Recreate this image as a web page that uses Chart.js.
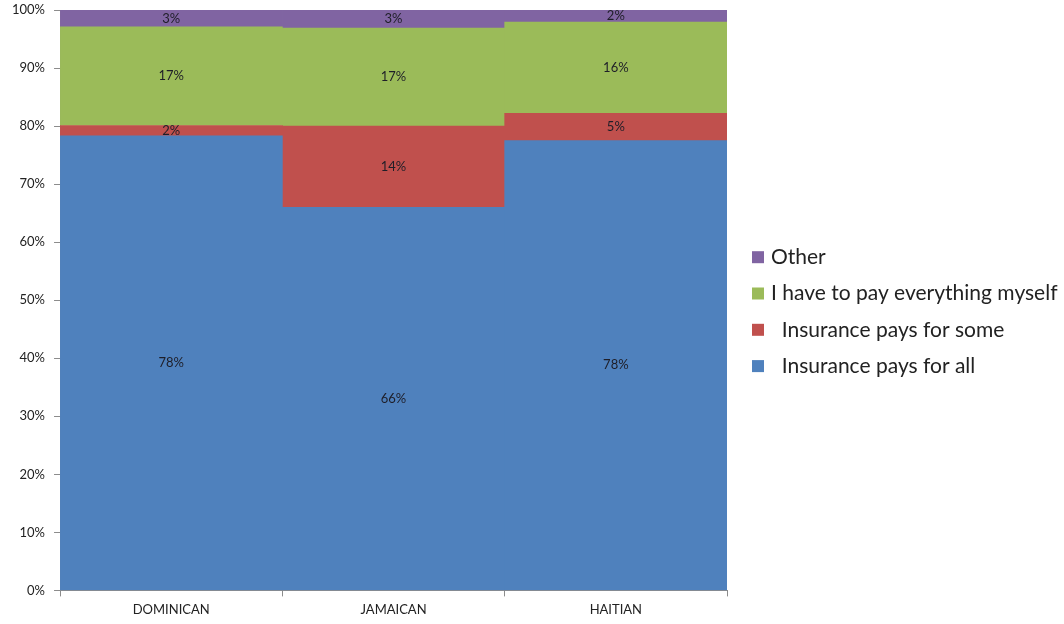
<!DOCTYPE html>
<html>
<head>
<meta charset="utf-8">
<script src="https://cdn.jsdelivr.net/npm/chart.js@4.4.1/dist/chart.umd.min.js"></script>
<style>
  html, body { margin: 0; padding: 0; background: #fff; }
  #wrap { position: relative; width: 1064px; height: 624px; }
</style>
</head>
<body>
<div id="wrap"><canvas id="payChart"></canvas></div>
<script>
// Share of respondents by how their care is paid for
const groups = ['DOMINICAN', 'JAMAICAN', 'HAITIAN'];
const payAll = [78.3, 66.0, 77.5];
const paySome = [1.8, 14.0, 4.7];
const payMyself = [17.0, 16.9, 15.7];
const payOther = [2.9, 3.1, 2.1];
const yTicks = [0, 10, 20, 30, 40, 50, 60, 70, 80, 90, 100];

const FONT = "Lato, 'Open Sans', sans-serif";

// writes the rounded percentage in the middle of every segment
const segmentLabels = {
    id: 'segmentLabels',
    afterDatasetsDraw(chart) {
        const ctx = chart.ctx;
        ctx.save();
        ctx.font = '13px ' + FONT;
        ctx.fillStyle = '#1e1e28';
        ctx.textAlign = 'center';
        ctx.textBaseline = 'middle';
        chart.data.datasets.forEach((ds, i) => {
            chart.getDatasetMeta(i).data.forEach((bar, j) => {
                const mid = (bar.y + bar.base) / 2;
                ctx.fillText(Math.round(ds.data[j]) + '%', bar.x, mid);
            });
        });
        ctx.restore();
    }
};

// legend drawn in the right-hand padding, top series first
const sideLegend = {
    id: 'sideLegend',
    afterDraw(chart) {
        const ctx = chart.ctx;
        const area = chart.chartArea;
        const boxX = area.right + 25;
        const rowGap = 36.3;
        const firstY = (area.top + area.bottom) / 2 - 43;
        ctx.save();
        ctx.font = '21px ' + FONT;
        ctx.textBaseline = 'middle';
        const sets = chart.data.datasets.slice().reverse();
        sets.forEach((ds, k) => {
            const y = firstY + k * rowGap;
            ctx.fillStyle = ds.backgroundColor;
            ctx.fillRect(boxX, y - 6, 12, 12);
            ctx.fillStyle = '#222';
            ctx.fillText(ds.label, boxX + 19, y);
        });
        ctx.restore();
    }
};

new Chart(document.getElementById('payChart'), {
    type: 'bar',
    data: {
        labels: groups,
        datasets: [
            { label: '  Insurance pays for all', data: payAll, backgroundColor: '#4f81bd' },
            { label: '  Insurance pays for some', data: paySome, backgroundColor: '#c0504d' },
            { label: 'I have to pay everything myself', data: payMyself, backgroundColor: '#9bbb59' },
            { label: 'Other', data: payOther, backgroundColor: '#8064a2' }
        ]
    },
    options: {
        responsive: true,
        maintainAspectRatio: false,
        animation: false,
        barPercentage: 1,
        categoryPercentage: 1,
        layout: { padding: { top: 10, left: 3, right: 337, bottom: 0 } },
        plugins: {
            legend: { display: false },
            tooltip: { enabled: false }
        },
        scales: {
            x: {
                stacked: true,
                grid: { drawOnChartArea: false, drawTicks: true, tickLength: 6, color: '#8c8c8c' },
                border: { display: true, color: '#8c8c8c' },
                ticks: { color: '#222', font: { family: FONT, size: 13 }, padding: 6 }
            },
            y: {
                stacked: true,
                min: 0,
                max: 100,
                afterBuildTicks: (axis) => { axis.ticks = yTicks.map(v => ({ value: v })); },
                // let the 100% label sit above the plot top instead of pushing it down
                afterFit: (axis) => { axis.paddingTop = 0; },
                grid: { drawOnChartArea: false, drawTicks: true, tickLength: 6, color: '#8c8c8c' },
                border: { display: true, color: '#8c8c8c' },
                ticks: {
                    color: '#222',
                    font: { family: FONT, size: 13 },
                    padding: 9,
                    callback: (v) => v + '%'
                }
            }
        }
    },
    plugins: [segmentLabels, sideLegend]
});
</script>
</body>
</html>
